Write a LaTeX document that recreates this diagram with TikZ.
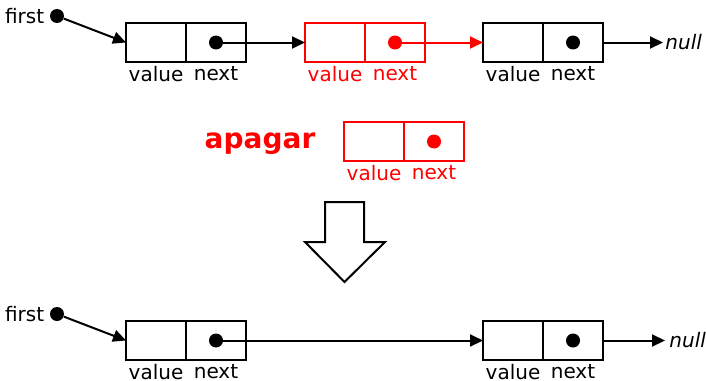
\documentclass[tikz,border=0pt]{standalone}
\usepackage{fontspec}
\setmainfont{DejaVu Sans}
\usepackage{tikz}
\usetikzlibrary{arrows.meta,positioning}
\tikzstyle{cell}=[draw,line width=1pt,rectangle,minimum width=30pt,minimum height=19.5pt,inner sep=0pt,outer sep=0pt]
\tikzstyle{dot}=[circle,fill,minimum size=7pt,inner sep=0pt]
\tikzstyle{field}=[inner xsep=2pt,inner ysep=1pt,font=\normalsize]
\tikzstyle{link} = [draw,line width=1pt,-{Triangle[length=6.5pt,width=6pt]}]

\begin{document}
\begin{tikzpicture}[x=0.5pt,y=-0.5pt]
    \useasboundingbox (0,0) rectangle (706,380);
    % Draw the list before and after
    % First we draw the boxes
    \foreach \pos/\name/\col in {{(156,42.5)/a/black}, {(335,42.5)/b/red}, {(513,42.5)/c/black}, {(374,141.5)/e/red}, {(156,340.5)/p/black}, {(513,340.5)/q/black}}
    {
        \node[cell,draw=\col] (v\name) at \pos {};
        \node[cell,draw=\col,right=0pt of v\name] (n\name) {};
        \node[dot,text=\col,fill=\col] (d\name) at (n\name.center) {};
        \node[field,text=\col,below=1pt of v\name] {value};
        \node[field,text=\col,below=1pt of n\name] {next};
    }

    % The first pointers
    \node[dot] (f1) at (57,16) {};
    \node[field,left=0.5pt of f1] {first};
    \node[dot] (f2) at (57,314) {};
    \node[field,left=0.5pt of f2] {first};
    \coordinate (z1) at (663,42.5);
    \coordinate (z2) at (665,340.5);
    \node[field,inner sep=1pt,right=0pt of z1] {\itshape null};
    \node[field,inner sep=1pt,right=1pt of z2] {\itshape null};

    % Connect boxes with arrows
    \foreach \source/ \dest in {f1/va.west, da/vb.west, nc.east/z1, f2/vp.west, dp/vq.west, nq.east/z2}
        \path[link] (\source) -- (\dest);
    \path[link,red] (db) -- (vc.west);

    \node[text=red,font=\fontsize{14}{16}\bfseries] (gone) at (260,144) {apagar};

    % Big arrow down
    \draw[line width=1pt] (325,202) -- (364,202) -- (364,242) -- (385,242) -- (344.5,282) -- (305,242) -- (325,242) -- cycle;
\end{tikzpicture}
\end{document}
